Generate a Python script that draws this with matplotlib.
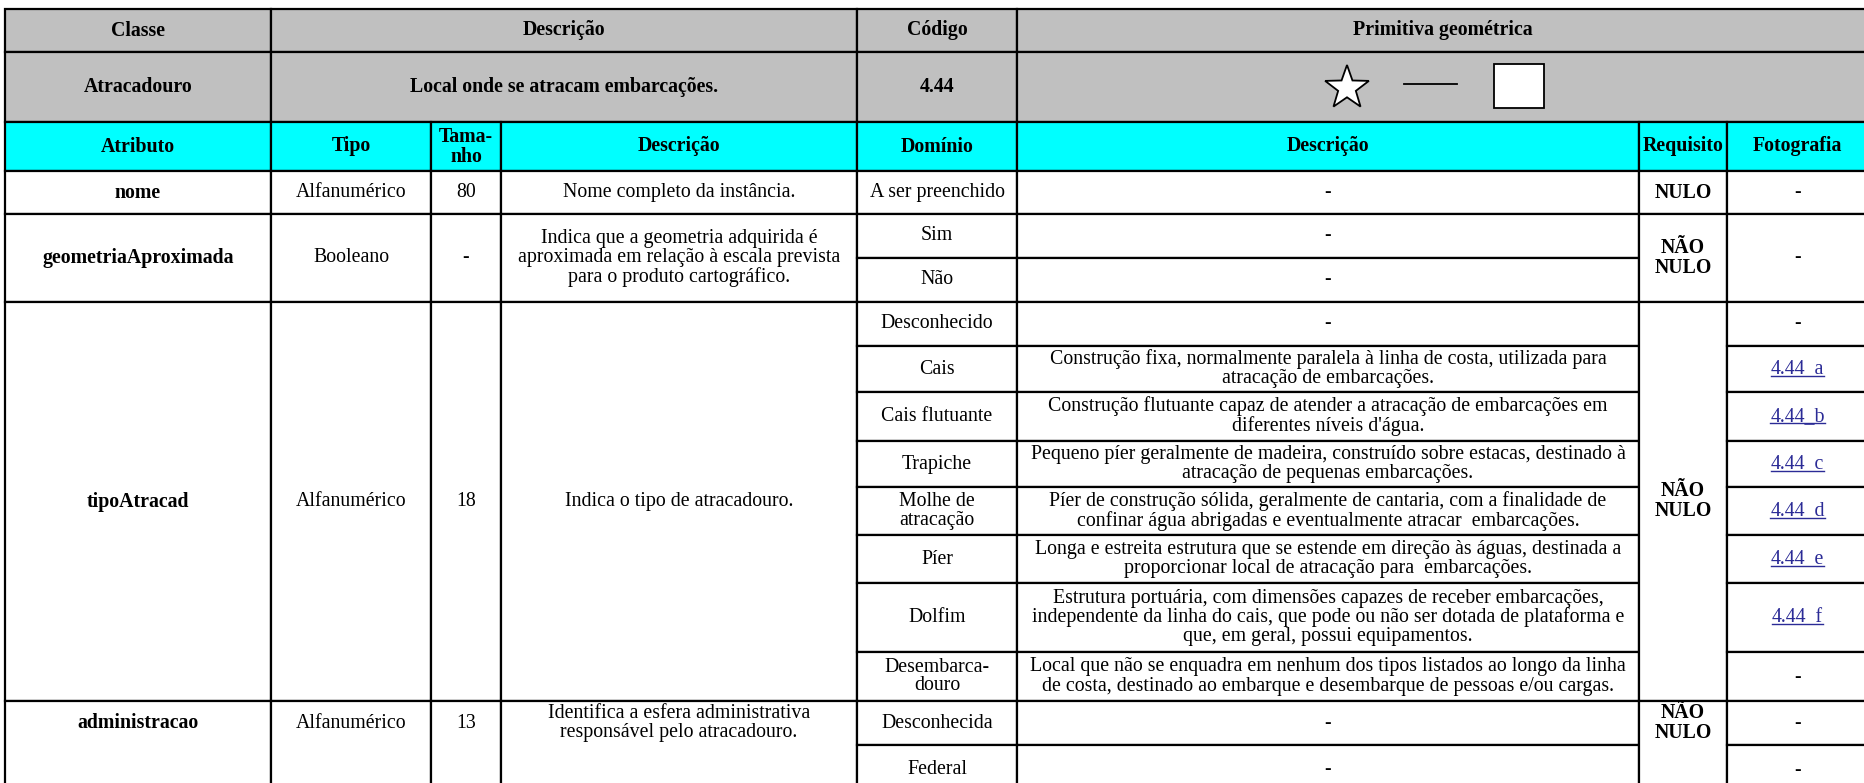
import numpy as np
import matplotlib
matplotlib.use("Agg")
import matplotlib.pyplot as plt
from matplotlib.patches import Rectangle, Polygon

plt.rcParams['font.family'] = ['Liberation Serif', 'DejaVu Serif']

# Dados da tabela
cab_classe = ["Classe", "Descrição", "Código", "Primitiva geométrica"]
classe = "Atracadouro"
classe_desc = "Local onde se atracam embarcações."
codigo = "4.44"

cab_atrib = ["Atributo", "Tipo", "Tama-\nnho", "Descrição", "Domínio",
             "Descrição", "Requisito", "Fotografia"]

atributos = ["nome", "geometriaAproximada", "tipoAtracad", "administracao"]
tipos = ["Alfanumérico", "Booleano", "Alfanumérico", "Alfanumérico"]
tamanhos = ["80", "-", "18", "13"]
descricoes = [
    "Nome completo da instância.",
    "Indica que a geometria adquirida é\naproximada em relação à escala prevista\npara o produto cartográfico.",
    "Indica o tipo de atracadouro.",
    "Identifica a esfera administrativa\nresponsável pelo atracadouro.",
]
requisitos = ["NULO", "NÃO\nNULO", "NÃO\nNULO", "NÃO\nNULO"]
n_valores = [1, 2, 8, 2]          # linhas de domínio por atributo
foto_unida = [False, True, False, False]

dominios = ["A ser preenchido", "Sim", "Não", "Desconhecido", "Cais",
            "Cais flutuante", "Trapiche", "Molhe de\natracação", "Píer",
            "Dolfim", "Desembarca-\ndouro", "Desconhecida", "Federal"]
dom_desc = [
    "-", "-", "-", "-",
    "Construção fixa, normalmente paralela à linha de costa, utilizada para\natracação de embarcações.",
    "Construção flutuante capaz de atender a atracação de embarcações em\ndiferentes níveis d'água.",
    "Pequeno píer geralmente de madeira, construído sobre estacas, destinado à\natracação de pequenas embarcações.",
    "Píer de construção sólida, geralmente de cantaria, com a finalidade de\nconfinar água abrigadas e eventualmente atracar  embarcações.",
    "Longa e estreita estrutura que se estende em direção às águas, destinada a\nproporcionar local de atracação para  embarcações.",
    "Estrutura portuária, com dimensões capazes de receber embarcações,\nindependente da linha do cais, que pode ou não ser dotada de plataforma e\nque, em geral, possui equipamentos.",
    "Local que não se enquadra em nenhum dos tipos listados ao longo da linha\nde costa, destinado ao embarque e desembarque de pessoas e/ou cargas.",
    "-", "-",
]
fotos = ["-", "-", "-", "4.44_a", "4.44_b", "4.44_c", "4.44_d", "4.44_e",
         "4.44_f", "-", "-", "-"]

# Layout (pixels)
X = [5, 271, 431, 501, 857, 1017, 1639, 1727, 1868]
Y_cab = [9, 52, 122, 171]
alt_linhas = [43, 44, 44, 44, 46, 49, 46, 48, 48, 69, 49, 44, 50]
fotos_negrito = {9, 10, 11}
CINZA = "#c0c0c0"
CIANO = "#00ffff"
LINK = "#2b2b96"
LW = 1.6
FS = 14.3

fig = plt.figure(figsize=(18.64, 7.83), dpi=100)
ax = fig.add_axes([0, 0, 1, 1])
ax.set_xlim(0, 1864)
ax.set_ylim(783, 0)
ax.axis('off')


def celula(x0, x1, y0, y1, txt="", cor="white", bold=False, color="black", yc=None):
    ax.add_patch(Rectangle((x0, y0), x1 - x0, y1 - y0, facecolor=cor,
                           edgecolor="black", linewidth=LW))
    if txt:
        if yc is None:
            yc = (y0 + y1) / 2
        return ax.text((x0 + x1) / 2, yc, txt, ha="center", va="center",
                       fontsize=FS, fontweight="bold" if bold else "normal",
                       color=color, linespacing=1.0)


# linhas da classe
cols_top = [X[0], X[1], X[4], X[5], X[8]]
for j in range(4):
    celula(cols_top[j], cols_top[j + 1], Y_cab[0], Y_cab[1], cab_classe[j], CINZA, True)
linha2 = [classe, classe_desc, codigo, ""]
for j in range(4):
    celula(cols_top[j], cols_top[j + 1], Y_cab[1], Y_cab[2], linha2[j], CINZA, True)

# primitivas geométricas
cx, cy, R, r = 1347, 88, 23, 9.3
ang = np.pi / 2 + np.arange(10) * np.pi / 5
rad = np.where(np.arange(10) % 2 == 0, R, r)
estrela = np.column_stack([cx + rad * np.cos(ang), cy - rad * np.sin(ang)])
ax.add_patch(Polygon(estrela, closed=True, facecolor="white", edgecolor="black", linewidth=1.3))
ax.plot([1404, 1457], [84, 84], color="black", linewidth=1.3)
ax.add_patch(Rectangle((1494, 64), 50, 44, facecolor="white", edgecolor="black", linewidth=1.3))

# cabeçalho dos atributos
for j in range(8):
    celula(X[j], X[j + 1], Y_cab[2], Y_cab[3], cab_atrib[j], CIANO, True)

# corpo
links = []
y = Y_cab[3]
k = 0
f = 0
for i, nome in enumerate(atributos):
    n = n_valores[i]
    hs = alt_linhas[k:k + n]
    tops = [y + sum(hs[:m]) for m in range(n)]
    y1 = y + sum(hs)
    yc = tops[0] + hs[0] / 2 if i == len(atributos) - 1 else None
    celula(X[0], X[1], y, y1, nome, bold=True, yc=yc)
    celula(X[1], X[2], y, y1, tipos[i], yc=yc)
    celula(X[2], X[3], y, y1, tamanhos[i], yc=yc)
    celula(X[3], X[4], y, y1, descricoes[i], yc=yc)
    for m in range(n):
        t0, t1 = tops[m], tops[m] + hs[m]
        celula(X[4], X[5], t0, t1, dominios[k + m])
        celula(X[5], X[6], t0, t1, dom_desc[k + m])
    celula(X[6], X[7], y, y1, requisitos[i], bold=True, yc=yc)
    if foto_unida[i]:
        celula(X[7], X[8], y, y1, fotos[f])
        f += 1
    else:
        for m in range(n):
            t0, t1 = tops[m], tops[m] + hs[m]
            txt = fotos[f]
            eh_link = txt.startswith("4.44")
            t = celula(X[7], X[8], t0, t1, txt, bold=f in fotos_negrito,
                       color=LINK if eh_link else "black")
            if eh_link:
                links.append(t)
            f += 1
    k += n
    y = y1

# sublinhado dos links
fig.canvas.draw()
inv = ax.transData.inverted()
for t in links:
    bb = t.get_window_extent()
    xa, ya = inv.transform((bb.x0, bb.y0 + 3))
    xb, _ = inv.transform((bb.x1, bb.y0 + 3))
    ax.plot([xa, xb], [ya, ya], color=LINK, linewidth=1.0)

fig.savefig("out.png", dpi=100)
